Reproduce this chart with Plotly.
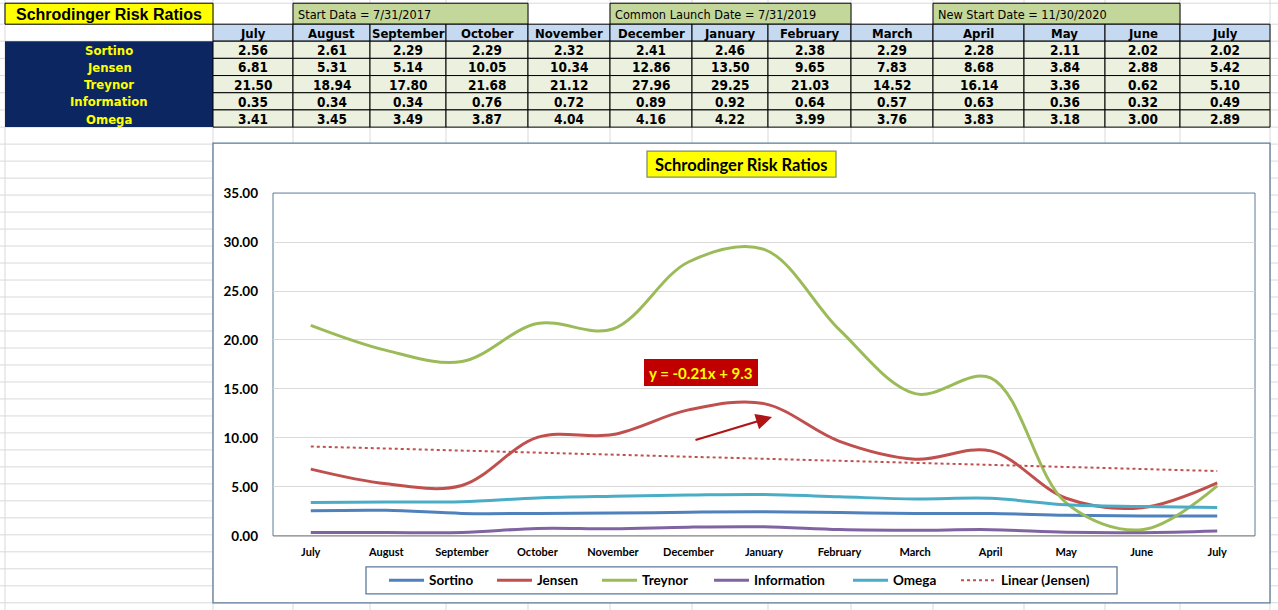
import plotly.graph_objects as go
import numpy as np

# ---------------- data ----------------
title = "Schrodinger Risk Ratios"
months = ["July", "August", "September", "October", "November", "December",
          "January", "February", "March", "April", "May", "June", "July"]
series_names = ["Sortino", "Jensen", "Treynor", "Information", "Omega"]
sortino = [2.56, 2.61, 2.29, 2.29, 2.32, 2.41, 2.46, 2.38, 2.29, 2.28, 2.11, 2.02, 2.02]
jensen = [6.81, 5.31, 5.14, 10.05, 10.34, 12.86, 13.50, 9.65, 7.83, 8.68, 3.84, 2.88, 5.42]
treynor = [21.50, 18.94, 17.80, 21.68, 21.12, 27.96, 29.25, 21.03, 14.52, 16.14, 3.36, 0.62, 5.10]
information = [0.35, 0.34, 0.34, 0.76, 0.72, 0.89, 0.92, 0.64, 0.57, 0.63, 0.36, 0.32, 0.49]
omega = [3.41, 3.45, 3.49, 3.87, 4.04, 4.16, 4.22, 3.99, 3.76, 3.83, 3.18, 3.00, 2.89]
header_notes = ["Start Data = 7/31/2017", "Common Launch Date = 7/31/2019", "New Start Date = 11/30/2020"]
trend_name = "Linear (Jensen)"
y_tick_values = [0, 5, 10, 15, 20, 25, 30, 35]

series_values = [sortino, jensen, treynor, information, omega]
colors = ["#4F81BD", "#C0504D", "#9BBB59", "#8064A2", "#4BACC6"]

# ---------------- geometry helpers (target pixels -> paper) ----------------
W, H = 1278, 610
S = 610 / 626.0   # vertical compensation observed for the page capture


def PX(p):
    return p / W


def PY(p):
    return 1 - (p / S - 8) / H


x_idx = list(range(1, len(months) + 1))
slope, intercept = np.polyfit(x_idx, jensen, 1)
trend = list(np.polyval([slope, intercept], x_idx))
eq_text = f"y = {slope:.2f}x + {intercept:.1f}"

fig = go.Figure()
for name, vals, c in zip(series_names, series_values, colors):
    fig.add_trace(go.Scatter(x=x_idx, y=vals, name=name, mode="lines",
                             line=dict(color=c, width=3, shape="spline", smoothing=1.0),
                             hoverinfo="skip"))
fig.add_trace(go.Scatter(x=x_idx, y=trend, name=trend_name, mode="lines",
                         line=dict(color="#C0504D", width=2, dash="dot"), hoverinfo="skip"))

shapes = []
ann = []

GRID = "#D9D9D9"
col_edges = [213, 293, 370, 446, 528, 610, 692, 768, 851, 933, 1024, 1105, 1180, 1270]
row_edges = [3, 24, 41, 58.2, 75.4, 92.6, 109.8, 127]
bg_rows = row_edges + list(np.arange(144, 640, 17))
for xv in [5] + col_edges:
    shapes.append(dict(type="line", xref="paper", yref="paper", x0=PX(xv), x1=PX(xv), y0=-0.1, y1=1.1,
                       line=dict(color=GRID, width=1), layer="below"))
for yv in bg_rows:
    shapes.append(dict(type="line", xref="paper", yref="paper", x0=0, x1=1, y0=PY(yv), y1=PY(yv),
                       line=dict(color=GRID, width=1), layer="below"))


def rect(x0, y0, x1, y1, fill, line_color=None, lw=1, layer="below"):
    shapes.append(dict(type="rect", xref="paper", yref="paper",
                       x0=PX(x0), x1=PX(x1), y0=PY(y1), y1=PY(y0),
                       fillcolor=fill,
                       line=dict(color=line_color if line_color else "rgba(0,0,0,0)",
                                 width=lw if line_color else 0),
                       layer=layer))


NARROW = "Liberation Sans Narrow, Arial Narrow, DejaVu Sans Condensed, sans-serif"
CHART_FONT = "Lato, Open Sans, sans-serif"


def text(x, y, s, size, color="black", family=NARROW, xanchor="center"):
    ann.append(dict(xref="paper", yref="paper", x=PX(x), y=PY(y), text=s, showarrow=False,
                    xanchor=xanchor, yanchor="middle", font=dict(size=size, color=color, family=family)))


# title cell
rect(5, 3, 213, 24, "#FFFF00", "black", 1)
text(109, 14, f"<b>{title}</b>", 16, family="Liberation Sans, Arial, sans-serif")

# green group header cells
groups = [(293, 528), (610, 851), (933, 1180)]
for (g0, g1), note in zip(groups, header_notes):
    rect(g0, 3, g1, 24, "#C4D79B", "black", 1)
    text(g0 + 3, 14.5, note, 12.6, xanchor="left")

# month header row
for i, m in enumerate(months):
    rect(col_edges[i], 24, col_edges[i + 1], 41, "#C5D9F1", "black", 1)
    text((col_edges[i] + col_edges[i + 1]) / 2, 33, f"<b>{m}</b>", 13)

# label block
rect(5, 41, 213, 127, "#0B2660")
for r, name in enumerate(series_names):
    text(109, (row_edges[r + 2] + row_edges[r + 3]) / 2 + 0.5, f"<b>{name}</b>", 13, color="#FFFF00")

# data cells
for r, vals in enumerate(series_values):
    for i, v in enumerate(vals):
        rect(col_edges[i], row_edges[r + 2], col_edges[i + 1], row_edges[r + 3], "#EBF1DE", "black", 1)
        text((col_edges[i] + col_edges[i + 1]) / 2, (row_edges[r + 2] + row_edges[r + 3]) / 2 + 0.5,
             f"<b>{v:.2f}</b>", 13.5)

# chart area
BORDER = "#5B7A99"
rect(213, 143, 1270, 603, "white", BORDER, 1.3)
shapes.append(dict(type="rect", xref="paper", yref="paper", x0=PX(273), x1=PX(1255), y0=PY(536), y1=PY(193),
                   line=dict(color=BORDER, width=1), fillcolor="rgba(0,0,0,0)", layer="below"))

# chart title box
rect(647, 151, 836, 177, "#FFFF00", "#7F8F70", 1.3, layer="above")
text(741.5, 164.5, f"<b>{title}</b>", 16.5, family=CHART_FONT)

# equation box
rect(644, 359, 758, 386, "#C00000", layer="above")
text(701, 373, f"<b>{eq_text}</b>", 15, color="#FFFF00", family=CHART_FONT)

# arrow
ann.append(dict(xref="paper", yref="paper", x=PX(772), y=PY(417), ax=694 - 772, ay=(440 - 417) / S,
                axref="pixel", ayref="pixel", text="", showarrow=True, arrowhead=2, arrowsize=1.6,
                arrowwidth=2, arrowcolor="#B01515"))

# legend
rect(366, 567, 1117, 594, "white", BORDER, 1.3, layer="above")
leg_x = [389, 497, 602, 714, 853, 961]
leg_names = series_names + [trend_name]
leg_colors = colors + ["#C0504D"]
for k, (lx, nm, c) in enumerate(zip(leg_x, leg_names, leg_colors)):
    shapes.append(dict(type="line", xref="paper", yref="paper", x0=PX(lx), x1=PX(lx + 35),
                       y0=PY(580.5), y1=PY(580.5),
                       line=dict(color=c, width=2 if k == 5 else 3, dash="dot" if k == 5 else "solid"),
                       layer="above"))
    text(lx + 38, 580.5, f"<b>{nm}</b>", 13.5, family=CHART_FONT, xanchor="left")

fig.update_layout(
    width=W, height=H, margin=dict(l=0, r=0, t=0, b=0),
    paper_bgcolor="white", plot_bgcolor="rgba(0,0,0,0)",
    showlegend=False, shapes=shapes, annotations=ann,
    xaxis=dict(domain=[PX(273), PX(1255)], range=[0.5, len(months) + 0.5],
               tickvals=x_idx, ticktext=[f"<b>{m}</b>" for m in months],
               tickfont=dict(family=CHART_FONT, size=11, color="black"),
               showgrid=False, zeroline=False, showline=True, linecolor="#BFBFBF",
               ticks="", ticklabelstandoff=6),
    yaxis=dict(domain=[PY(536), PY(193)], range=[0, 35],
               tickvals=y_tick_values, ticktext=[f"<b>{v:.2f}</b>" for v in y_tick_values],
               tickfont=dict(family=CHART_FONT, size=13.5, color="black"),
               showgrid=True, gridcolor="#D9D9D9", zeroline=False, showline=False,
               ticks="", ticklabelstandoff=14),
)

fig.write_html("out.html")
